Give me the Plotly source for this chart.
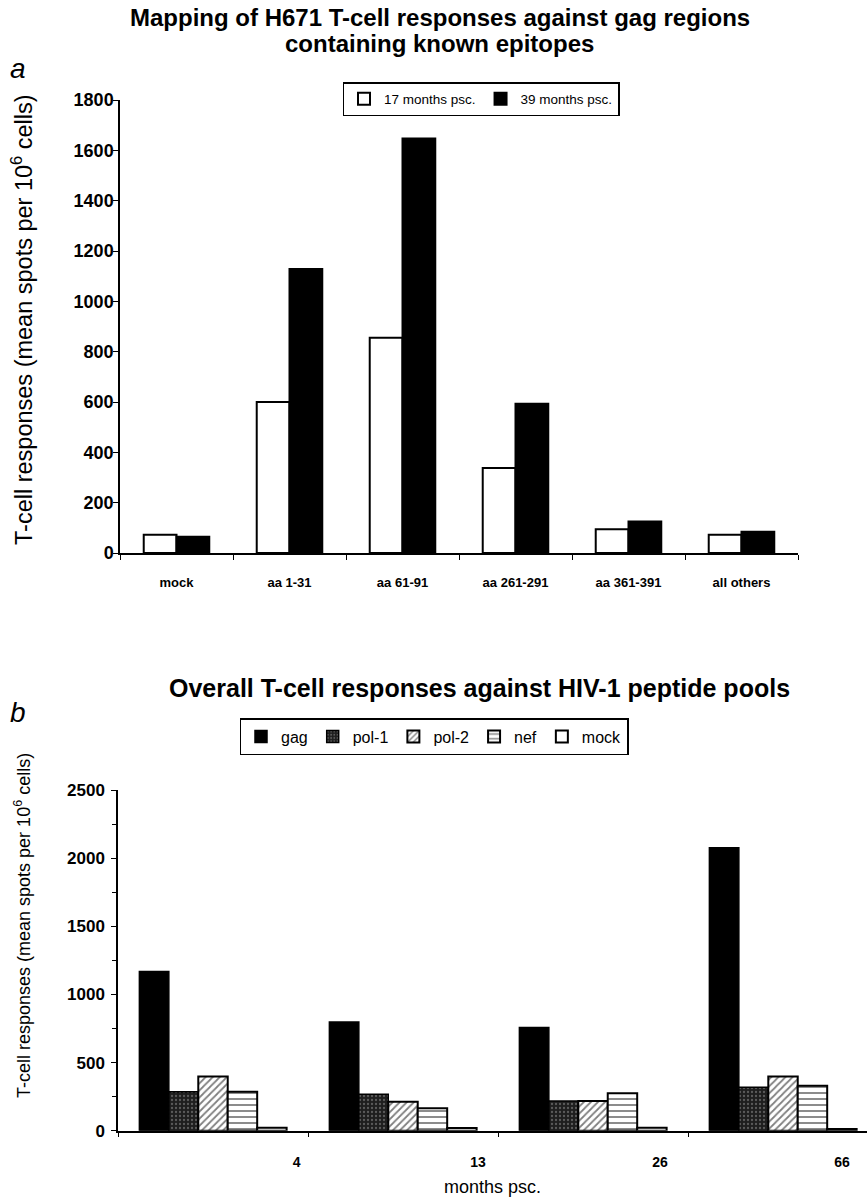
import plotly.graph_objects as go

# ---- panel a data ----
regions = ["mock", "aa 1-31", "aa 61-91", "aa 261-291", "aa 361-391", "all others"]
resp_17m = [73, 600, 855, 338, 94, 73]
resp_39m = [65, 1128, 1647, 593, 125, 84]

# ---- panel b data ----
months = ["4", "13", "26", "66"]
gag = [1168, 797, 757, 2076]
pol1 = [286, 267, 218, 318]
pol2 = [397, 213, 218, 397]
nef = [286, 164, 274, 330]
mock = [22, 20, 22, 12]

W, H = 867, 1201


def px_x(x):
    return x / W


def px_y(y):
    return 1 - y / H


FONT = "Liberation Sans, Arial, sans-serif"
BLACK = "black"

fig = go.Figure()

# panel a bars
wa = 0.29
fig.add_trace(go.Bar(
    x=regions, y=resp_17m, name="17 months psc.",
    marker=dict(color="white", line=dict(color=BLACK, width=2)),
    width=wa, offset=-wa, xaxis="x", yaxis="y", legend="legend"))
fig.add_trace(go.Bar(
    x=regions, y=resp_39m, name="39 months psc.",
    marker=dict(color=BLACK, line=dict(color=BLACK, width=2)),
    width=wa, offset=0, xaxis="x", yaxis="y", legend="legend"))

# panel b bars
wb = 0.155
series_b = [
    ("gag", gag, dict(color=BLACK, line=dict(color=BLACK, width=1.5))),
    ("pol-1", pol1, dict(color="#2a2a2a", line=dict(color=BLACK, width=1.5),
                         pattern=dict(shape=".", fgcolor="#9a9a9a", bgcolor="#1e1e1e",
                                      size=4, solidity=0.25))),
    ("pol-2", pol2, dict(color="white", line=dict(color=BLACK, width=2),
                         pattern=dict(shape="/", fgcolor=BLACK, bgcolor="white",
                                      size=5, solidity=0.35))),
    ("nef", nef, dict(color="white", line=dict(color=BLACK, width=2),
                      pattern=dict(shape="-", fgcolor=BLACK, bgcolor="white",
                                   size=6, solidity=0.3))),
    ("mock", mock, dict(color="white", line=dict(color=BLACK, width=2))),
]
for k, (nm, vals, mk) in enumerate(series_b):
    fig.add_trace(go.Bar(
        x=months, y=vals, name=nm, marker=mk,
        width=wb, offset=-2.5 * wb + k * wb,
        xaxis="x2", yaxis="y2", legend="legend2"))

axis_common = dict(showline=True, linecolor=BLACK, linewidth=1.5, showgrid=False,
                   zeroline=False, ticks="outside", tickcolor=BLACK, ticklen=5,
                   tickwidth=1, automargin=False)

fig.update_layout(
    width=W, height=H,
    margin=dict(l=0, r=0, t=0, b=0, pad=0, autoexpand=False),
    paper_bgcolor="white", plot_bgcolor="white",
    barmode="overlay",
    font=dict(family=FONT, color=BLACK),
    showlegend=True,
    xaxis=dict(domain=[px_x(120), px_x(798)], anchor="y", type="category",
               range=[-0.5, 5.5], tickson="boundaries", ticklabelstandoff=17,
               tickfont=dict(size=13, weight="bold"), **axis_common),
    yaxis=dict(domain=[px_y(553), px_y(100)], anchor="x", range=[0, 1800],
               dtick=200, tickfont=dict(size=18, weight="bold"),
               ticklabelstandoff=-4, **axis_common),
    xaxis2=dict(domain=[px_x(118), 1.0], anchor="y2", type="category",
                range=[-0.5, 3.442], tickson="boundaries", showticklabels=False,
                **axis_common),
    xaxis3=dict(overlaying="x2", anchor="y2", side="bottom", type="linear",
                range=[-0.5, 3.442], tickmode="array",
                tickvals=[0.44, 1.395, 2.353, 3.31], ticktext=months,
                showline=False, showgrid=False, zeroline=False, ticks="",
                ticklabelstandoff=21, automargin=False,
                tickfont=dict(size=14, weight="bold"),
                title=dict(text="months psc.", font=dict(size=18), standoff=11)),
    yaxis2=dict(domain=[px_y(1130.7), px_y(790)], anchor="x2", range=[0, 2500],
                dtick=500, tickfont=dict(size=17, weight="bold"),
                ticklabelstandoff=3,
                minor=dict(dtick=250, ticks="outside", ticklen=4, tickcolor=BLACK),
                **axis_common),
    legend=dict(orientation="h", x=px_x(481), xanchor="center", y=px_y(82),
                yanchor="top", bordercolor=BLACK, borderwidth=1.5, bgcolor="white",
                font=dict(size=13.5), traceorder="normal"),
    legend2=dict(orientation="h", x=px_x(434), xanchor="center", y=px_y(718),
                 yanchor="top", bordercolor=BLACK, borderwidth=1.5, bgcolor="white",
                 font=dict(size=16), traceorder="normal"),
)

# an invisible trace so xaxis3 is rendered
fig.add_trace(go.Scatter(x=[0], y=[0], xaxis="x3", yaxis="y2", mode="markers",
                         marker=dict(opacity=0), showlegend=False, hoverinfo="skip"))

annotations = [
    dict(text="<b>Mapping of H671 T-cell responses against gag regions</b>",
         x=px_x(440), y=px_y(18), font=dict(size=24)),
    dict(text="<b>containing known epitopes</b>", x=px_x(440), y=px_y(43),
         font=dict(size=24)),
    dict(text="<b>Overall T-cell responses against HIV-1 peptide pools</b>",
         x=px_x(479), y=px_y(688), font=dict(size=25)),
    dict(text="<i>a</i>", x=px_x(18), y=px_y(68), font=dict(size=28)),
    dict(text="<i>b</i>", x=px_x(18), y=px_y(712), font=dict(size=28)),
    dict(text="T-cell responses (mean spots per 10<sup>6</sup> cells)",
         x=px_x(22), y=px_y(320), textangle=-90, font=dict(size=23.5)),
    dict(text="T-cell responses (mean spots per 10<sup>6</sup> cells)",
         x=px_x(22), y=px_y(926), textangle=-90, font=dict(size=18)),
]
for a in annotations:
    a.update(xref="paper", yref="paper", showarrow=False, xanchor="center",
             yanchor="middle")
    a["font"] = dict(family=FONT, color=BLACK, **a["font"])
fig.update_layout(annotations=annotations)

fig.write_html(
    "out.html",
    config={"displayModeBar": False},
    post_script="document.body.style.margin='0';document.body.style.overflow='hidden';",
)
